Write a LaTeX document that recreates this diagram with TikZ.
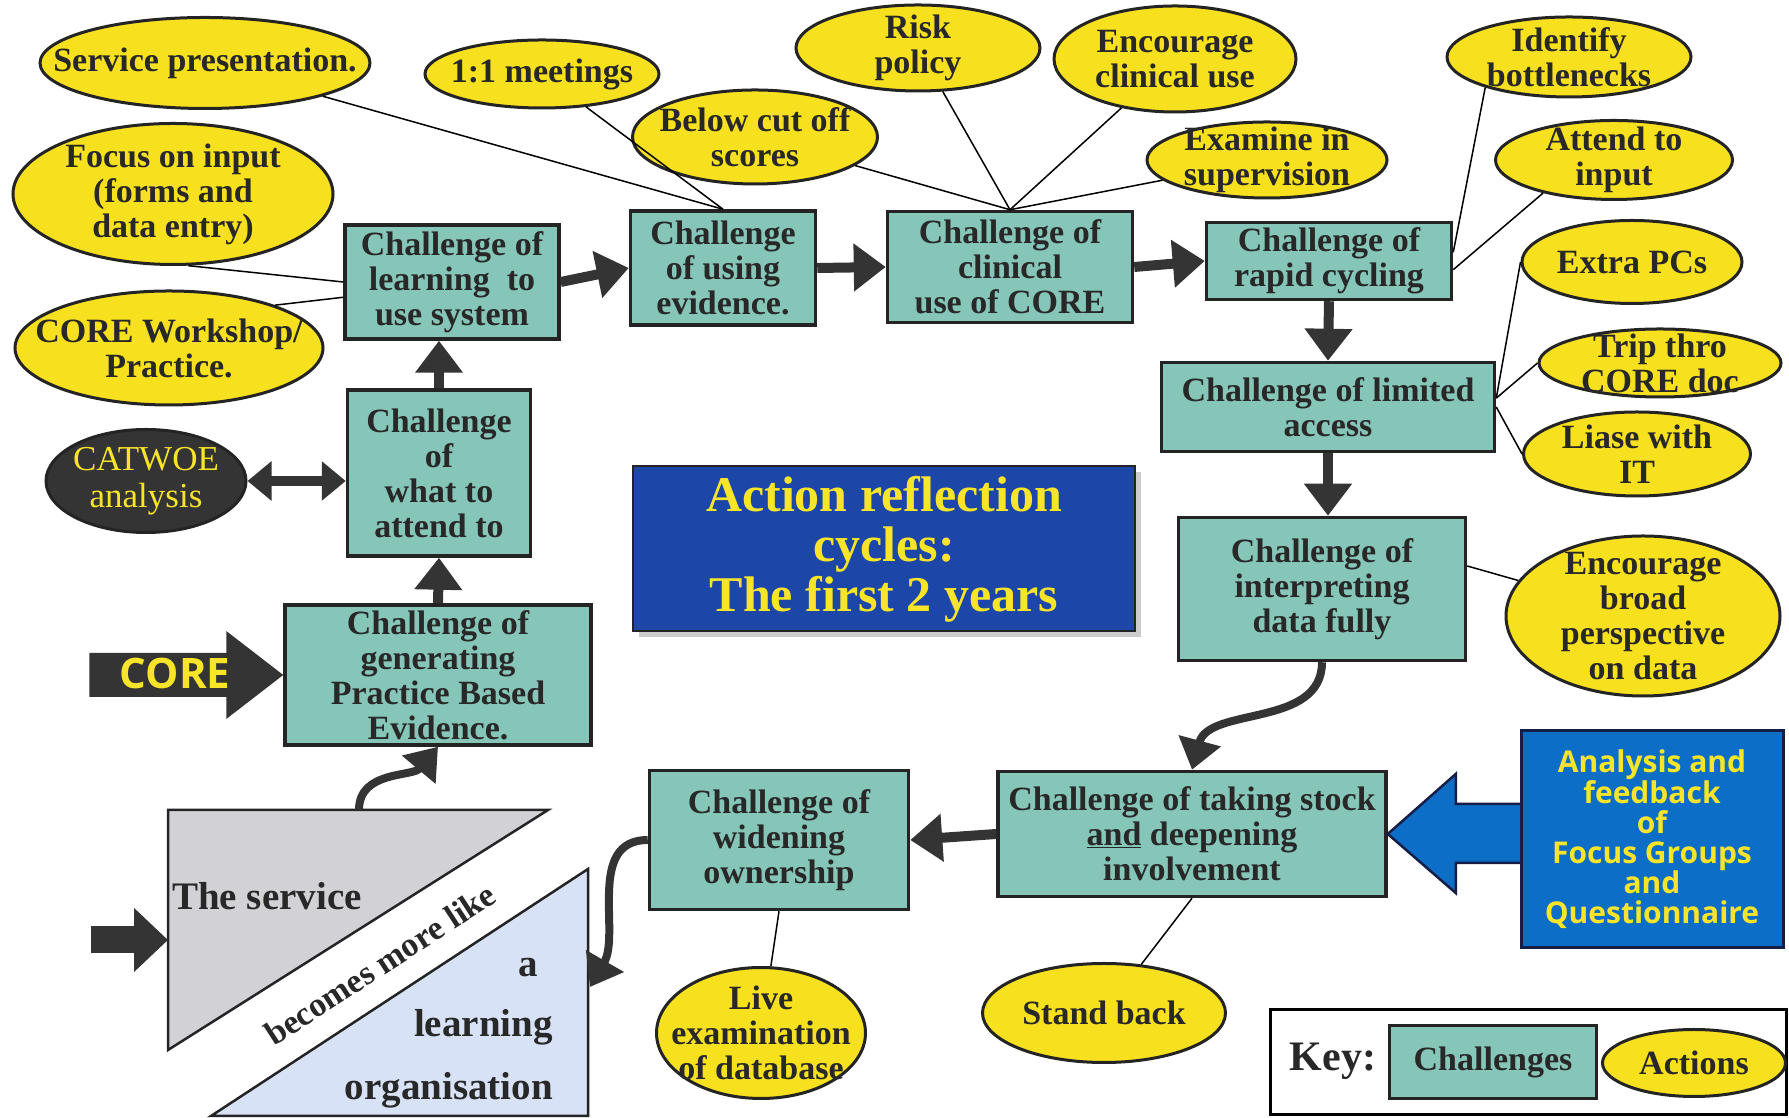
\documentclass[tikz,border=0pt]{standalone}
\usepackage{fontspec}
\setmainfont{Liberation Serif}
\newfontfamily\opensans{Open Sans}
\usetikzlibrary{shapes.geometric,arrows.meta,shadows}

\definecolor{challengeteal}{RGB}{134,198,184}
\definecolor{actionyellow}{RGB}{247,224,30}
\definecolor{arrowgray}{RGB}{52,52,52}
\definecolor{edgegray}{RGB}{36,36,36}
\definecolor{textgray}{RGB}{40,40,40}
\definecolor{titleblue}{RGB}{28,70,168}
\definecolor{titleyellow}{RGB}{248,228,40}
\definecolor{feedbackblue}{RGB}{12,110,198}
\definecolor{feedbackedge}{RGB}{20,30,70}
\definecolor{servicegray}{RGB}{210,210,214}
\definecolor{learningblue}{RGB}{216,226,246}

\begin{document}
\begin{tikzpicture}[x=1pt, y=1pt,
  challenge_node/.style={rectangle, draw=edgegray, line width=3.5pt, fill=challengeteal, text=textgray, align=center, inner sep=0pt, font=\bfseries\fontsize{34}{35}\selectfont},
  action_node/.style={ellipse, draw=edgegray, line width=3pt, fill=actionyellow, text=textgray, align=center, inner sep=-40pt, font=\bfseries\fontsize{34}{35}\selectfont},
  triangle_text/.style={inner sep=0pt, text=textgray, font=\bfseries\fontsize{39}{40}\selectfont},
  flow_arrow/.style={draw=arrowgray, line width=10pt, -{Triangle[length=32pt,width=46pt]}},
  curve_arrow/.style={draw=arrowgray, line width=8pt, -{Triangle[length=30pt,width=42pt]}},
  link_line/.style={draw=black, line width=1.5pt}]

\useasboundingbox (0,0) rectangle (1789,1118);

\filldraw[fill=servicegray, draw=edgegray, line width=2.5pt] (168,308) -- (548,308) -- (168,68) -- cycle;
\filldraw[fill=learningblue, draw=edgegray, line width=2.5pt] (588,249) -- (588,2) -- (211,2) -- cycle;
\node[triangle_text, anchor=west] (service_text) at (172,222) {The service};
\node[triangle_text] (a_text) at (528,150) {a};
\node[triangle_text, anchor=east] (learning_text) at (553,91) {learning};
\node[triangle_text, anchor=east] (organisation_text) at (553,28) {organisation};
\node[triangle_text, font=\bfseries\fontsize{34}{35}\selectfont, rotate=33] (becomes_text) at (380,154) {becomes more like};
\coordinate (service_top) at (359,308);
\coordinate (service_in) at (168,178);
\coordinate (entry_tail) at (91,178);
\coordinate (organisation_side) at (590,131);

\node[challenge_node, minimum width=214pt, minimum height=114pt] (learn) at (452,836) {Challenge of\\learning\ \ to\\use system};
\node[challenge_node, minimum width=185pt, minimum height=114pt] (using) at (723,850) {Challenge\\of using\\evidence.};
\node[challenge_node, minimum width=245pt, minimum height=111pt] (clinical) at (1010,851) {Challenge of\\clinical\\use of CORE};
\node[challenge_node, minimum width=245pt, minimum height=77pt] (rapid) at (1329,857) {Challenge of\\rapid cycling};
\node[challenge_node, minimum width=333pt, minimum height=89pt] (limited) at (1328,711) {Challenge of limited\\access};
\node[challenge_node, minimum width=287pt, minimum height=143pt] (interp) at (1322,529) {Challenge of\\interpreting\\data fully};
\node[challenge_node, minimum width=388pt, minimum height=125pt] (stock) at (1192,284) {Challenge of taking stock\\\underline{and} deepening\\involvement};
\node[challenge_node, minimum width=259pt, minimum height=139pt] (widen) at (779,278) {Challenge of\\widening\\ownership};
\node[challenge_node, minimum width=183pt, minimum height=166pt] (attend) at (439,645) {Challenge\\of\\what to\\attend to};
\node[challenge_node, minimum width=306pt, minimum height=140pt] (generate) at (438,443) {Challenge of\\generating\\Practice Based\\Evidence.};

\node[rectangle, draw=edgegray, line width=2pt, fill=titleblue, text=titleyellow, drop shadow={shadow xshift=6pt, shadow yshift=-6pt, fill=black!40}, minimum width=502pt, minimum height=165pt, align=center, font=\bfseries\fontsize{50}{50}\selectfont] (title) at (884,569) {Action reflection\\cycles:\\The first 2 years};

\node[action_node, minimum width=330pt, minimum height=91pt] (service) at (205,1055) {Service presentation.};
\node[action_node, minimum width=234pt, minimum height=68pt] (meetings) at (542,1044) {1:1 meetings};
\node[action_node, minimum width=245pt, minimum height=94pt] (cutoff) at (755,981) {Below cut off\\scores};
\node[action_node, minimum width=244pt, minimum height=86pt] (risk) at (918,1070) {Risk\\policy};
\node[action_node, minimum width=242pt, minimum height=106pt] (encourage) at (1175,1059) {Encourage\\clinical use};
\node[action_node, minimum width=240pt, minimum height=76pt] (examine) at (1267,958) {Examine in\\supervision};
\node[action_node, minimum width=244pt, minimum height=80pt] (bottlenecks) at (1569,1061) {Identify\\bottlenecks};
\node[action_node, minimum width=237pt, minimum height=79pt] (input) at (1614,958) {Attend to\\input};
\node[action_node, minimum width=220pt, minimum height=83pt] (pcs) at (1632,856) {Extra PCs};
\node[action_node, minimum width=242pt, minimum height=68pt] (trip) at (1660,755) {Trip thro\\CORE doc};
\node[action_node, minimum width=227pt, minimum height=84pt] (liase) at (1637,664) {Liase with\\IT};
\node[action_node, minimum width=274pt, minimum height=160pt] (broad) at (1643,502) {Encourage\\broad\\perspective\\on data};
\node[action_node, minimum width=320pt, minimum height=141pt] (focus) at (173,924) {Focus on input\\(forms and\\data entry)};
\node[action_node, minimum width=308pt, minimum height=114pt] (workshop) at (169,770) {CORE Workshop/\\Practice.};
\node[action_node, minimum width=209pt, minimum height=131pt] (live) at (761,85) {Live\\examination\\of database};
\node[action_node, minimum width=243pt, minimum height=99pt] (standback) at (1104,105) {Stand back};
\node[action_node, fill=arrowgray, text=titleyellow, font=\fontsize{35}{37}\selectfont, minimum width=200pt, minimum height=103pt] (catwoe) at (146,637) {CATWOE\\analysis};

\fill[arrowgray] (generate.west) -- ++(-57,44) -- ++(0,-22) -- ++(-137,0) -- ++(0,-44) -- ++(137,0) -- ++(0,-22) -- cycle;
\node[text=titleyellow, font=\opensans\bfseries\fontsize{42}{44}\selectfont] (core_label) at (175,445) {CORE};

\filldraw[fill=feedbackblue, draw=feedbackedge, line width=2.5pt] (stock.east) -- ++(68,60) -- ++(0,-30) -- ++(80,0) -- ++(0,-59) -- ++(-80,0) -- ++(0,-30) -- cycle;
\node[rectangle, draw=feedbackedge, line width=3pt, fill=feedbackblue, text=titleyellow, minimum width=262pt, minimum height=217pt, align=center, font=\opensans\bfseries\fontsize{30}{30}\selectfont] (feedback) at (1652,279) {Analysis and\\feedback\\of\\Focus Groups\\and\\Questionnaire};

\draw[flow_arrow] (learn.east) -- (using.west);
\draw[flow_arrow] (using.east) -- (clinical.west);
\draw[flow_arrow] (clinical.east) -- (rapid.west);
\draw[flow_arrow] (rapid.south) -- (limited.north);
\draw[flow_arrow] (limited.south) -- (limited.south |- interp.north);
\draw[flow_arrow] (stock.west) -- (widen.east);
\draw[flow_arrow] (attend.north) -- (attend.north |- learn.south);
\draw[flow_arrow] (generate.north) -- (attend.south);
\draw[flow_arrow, {Triangle[length=24pt,width=38pt]}-{Triangle[length=24pt,width=38pt]}] (catwoe) -- (catwoe -| attend.west);
\draw[arrowgray, line width=27pt, -{Triangle[length=34pt,width=62pt]}] (entry_tail) -- (service_in);

\draw[curve_arrow] (service_top) to[out=90, in=230] (generate.south);
\draw[curve_arrow] (widen.west) to[out=180, in=60] (organisation_side);
\draw[curve_arrow] (interp.south) to[out=-90, in=75] (stock.north);

\draw[link_line] (service) -- (using.north);
\draw[link_line] (meetings) -- (using.north);
\draw[link_line] (cutoff) -- (clinical.north);
\draw[link_line] (risk) -- (clinical.north);
\draw[link_line] (encourage) -- (clinical.north);
\draw[link_line] (examine) -- (clinical.north);
\draw[link_line] (focus.-78) -- (learn.west);
\draw[link_line] (workshop.22) -- (learn.188);
\draw[link_line] (bottlenecks.200) -- (rapid.4);
\draw[link_line] (input.205) -- (rapid.356);
\draw[link_line] (pcs.west) -- (limited.3);
\draw[link_line] (trip.west) -- (limited.3);
\draw[link_line] (liase.west) -- (limited.east);
\draw[link_line] (broad) -- (interp.9);
\draw[link_line] (standback) -- (stock.south);
\draw[link_line] (live) -- (widen.south);

\draw[draw=black, line width=3pt] (1270,3) rectangle (1786,108);
\node[text=textgray, font=\bfseries\fontsize{42}{44}\selectfont] (key) at (1333,57) {Key:};
\node[challenge_node, minimum width=207pt, minimum height=73pt] (key_challenge) at (1493,56) {Challenges};
\node[action_node, minimum width=183pt, minimum height=67pt] (key_action) at (1694,55) {Actions};

\end{tikzpicture}
\end{document}
